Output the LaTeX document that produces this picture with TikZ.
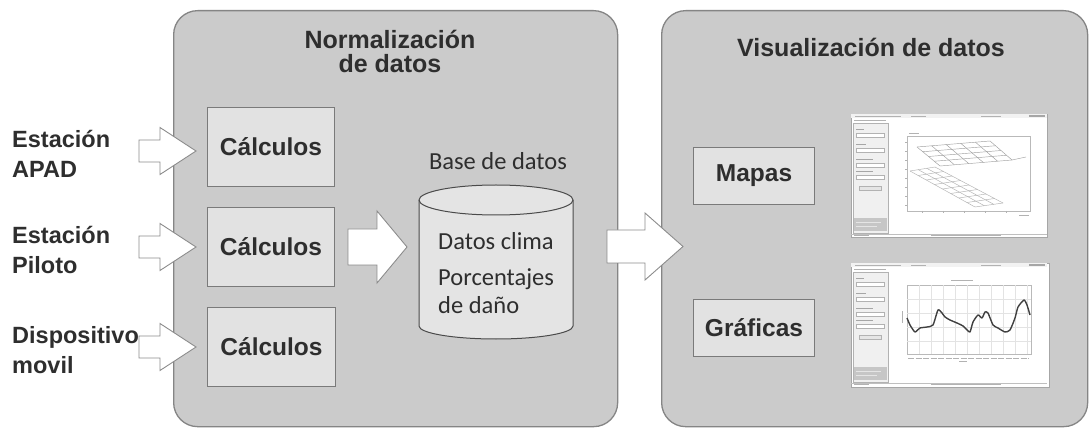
\documentclass[tikz,border=0pt]{standalone}
\usepackage{fontspec}
\setmainfont{Liberation Sans}
\newfontfamily\calfont{Carlito}
\usetikzlibrary{calc}
\definecolor{panelfill}{HTML}{CBCBCB}
\definecolor{panelline}{HTML}{858585}
\definecolor{boxfill}{HTML}{E2E2E2}
\definecolor{boxline}{HTML}{7A7A7A}
\definecolor{txt}{HTML}{2E2E2E}
\definecolor{arrline}{HTML}{8C8C8C}
\definecolor{cylfill}{HTML}{E4E4E4}
\definecolor{cylline}{HTML}{4A4A4A}
\newcommand\blockarr[6]{%
  \draw[barrow] (#1,{#4-#5}) -- (#2,{#4-#5}) -- (#2,{#4-#6}) -- (#3,#4) -- (#2,{#4+#6}) -- (#2,{#4+#5}) -- (#1,{#4+#5}) -- cycle;}
\newcommand\sidebarshot{%
  \draw[draw=gray!60, fill=white!94!black, line width=0.4pt] (2,9) rectangle (37,119);
  \foreach \yy/\ll in {15/8, 30/10, 45/17, 57/17} {
    \draw[gray!70, line width=0.6pt] (5,\yy) -- ++(\ll,0);
    \draw[gray!60, fill=white, line width=0.4pt] (5,{\yy+4}) rectangle (33,{\yy+8});
  }
  \draw[gray!60, fill=white!90!black, line width=0.4pt] (8,72) rectangle (30,76);
  \fill[gray!45] (3,104) rectangle (36,117);
  \draw[gray!20, line width=0.5pt] (5,108) -- (30,108) (5,112) -- (26,112);
  \fill[white!95!black] (0,0) rectangle (196,4);
  \draw[gray!60, line width=0.6pt] (4,2) -- (50,2) (60,2) -- (75,2) (130,2) -- (150,2);
  \fill[gray!70] (178,1) rectangle (194,3.5);
  \draw[gray!60, line width=0.5pt] (3,6) -- (35,6);
  \draw[gray!50, line width=0.4pt] (0,120) -- (196,120);
  \draw[gray!60, line width=0.5pt] (3,121.5) -- (18,121.5) (80,121.5) -- (150,121.5);
}
\begin{document}
\begin{tikzpicture}[x=1pt,y=-1pt,
  panel/.style={draw=panelline, line width=1.3pt, fill=panelfill, rounded corners=24pt, anchor=north west, inner sep=0pt},
  calcbox/.style={draw=boxline, line width=1pt, fill=boxfill, minimum width=127pt, minimum height=79pt, anchor=north west, font=\fontsize{24.5}{30}\selectfont\bfseries, text=txt},
  visbox/.style={draw=boxline, line width=1pt, fill=boxfill, minimum width=121pt, minimum height=57pt, anchor=north west, font=\fontsize{24.5}{30}\selectfont\bfseries, text=txt},
  title/.style={font=\fontsize{25}{25}\selectfont\bfseries, text=txt, align=center, inner sep=0pt},
  srclabel/.style={font=\fontsize{23.5}{30}\selectfont\bfseries, text=txt, align=left, anchor=west, inner sep=0pt},
  dbtext/.style={font=\calfont\fontsize{24.5}{28}\selectfont, text=txt, inner sep=0pt},
  barrow/.style={draw=arrline, fill=white, line width=0.9pt, line join=miter},
  shot/.style={draw=gray!70, fill=white, line width=0.8pt},
  meshline/.style={draw=gray!75, line width=0.45pt}
]
\useasboundingbox (0,0) rectangle (1089,430);
\fill[white] (0,0) rectangle (1089,430);

% panels
\node[panel, minimum width=444pt, minimum height=416pt] (norm) at (173,10) {};
\node[panel, minimum width=426pt, minimum height=416pt] (vis) at (661,10) {};

% titles
\node[title] (normtitle) at (390,51) {Normalización\\[-1pt]de datos};
\node[title] (vistitle) at (871,47) {Visualización de datos};

% source labels
\node[srclabel] (src1) at (12,154) {Estación\\APAD};
\node[srclabel] (src2) at (12,250) {Estación\\Piloto};
\node[srclabel] (src3) at (12,350) {Dispositivo\\movil};

% calc boxes
\node[calcbox] (calc1) at (207,107) {Cálculos};
\node[calcbox] (calc2) at (207,207) {Cálculos};
\node[calcbox, minimum width=128pt] (calc3) at (207,307) {Cálculos};

% database cylinder
\coordinate (dbtop) at (496,200);
\coordinate (dbbot) at (496,326);
\draw[draw=cylline, fill=cylfill, line width=1pt]
  ($(dbtop)+(-77,0)$) -- ($(dbbot)+(-77,0)$)
  arc[start angle=180, end angle=360, x radius=77, y radius=-13]
  -- ($(dbtop)+(77,0)$)
  arc[start angle=0, end angle=180, x radius=77, y radius=-15] -- cycle;
\draw[draw=cylline, line width=1pt] ($(dbtop)+(-77,0)$) arc[start angle=180, end angle=360, x radius=77, y radius=-15];
\node[dbtext] (dbtitle) at (498,161) {Base de datos};
\node[dbtext, anchor=base west] (dbl1) at (438,250) {Datos clima};
\node[dbtext, anchor=base west] (dbl2) at (438,285) {Porcentajes};
\node[dbtext, anchor=base west] (dbl3) at (438,313) {de daño};

% vis boxes
\node[visbox] (mapas) at (693,147) {Mapas};
\node[visbox] (graf) at (693,299) {Gráficas};

% screenshot 1 (maps)
\begin{scope}[shift={(851,114)}]
  \draw[shot] (0,0) rectangle (196,123);
  \sidebarshot
  \draw[gray!55, line width=0.4pt] (56,22) rectangle (179,97);
  \foreach \yy in {28,37,46,55,64,73,82,91} \draw[gray!60, line width=0.4pt] (54,\yy) -- (56,\yy);
  \foreach \xx in {71,92,113,134,155} \draw[gray!60, line width=0.4pt] (\xx,97) -- (\xx,99);
  \draw[gray!60, line width=0.4pt] (58,19) -- (68,19) (168,101) -- (178,101);
  \coordinate (a00) at (66,33); \coordinate (a10) at (139,27);
  \coordinate (a01) at (89,52); \coordinate (a11) at (161,46);
  \foreach \t in {0,0.2,0.4,0.6,0.8,1}
    \draw[meshline] ($(a00)!\t!(a10)$) -- ($(a01)!\t!(a11)$);
  \foreach \t in {0,0.25,0.5,0.75,1}
    \draw[meshline] ($(a00)!\t!(a01)$) -- ($(a10)!\t!(a11)$);
  \draw[meshline] (161,46) -- (175,43);
  \coordinate (b00) at (59,57); \coordinate (b10) at (84,53);
  \coordinate (b01) at (124,93); \coordinate (b11) at (152,89);
  \foreach \t in {0,0.33,0.67,1}
    \draw[meshline, draw=gray!60] ($(b00)!\t!(b10)$) -- ($(b01)!\t!(b11)$);
  \foreach \t in {0,0.125,0.25,0.375,0.5,0.625,0.75,0.875,1}
    \draw[meshline, draw=gray!60] ($(b00)!\t!(b01)$) -- ($(b10)!\t!(b11)$);
\end{scope}

% screenshot 2 (graphs)
\begin{scope}[shift={(851,263)}]
  \draw[shot] (0,0) rectangle (198,124);
  \sidebarshot
  \draw[gray!55, line width=0.4pt] (56,22) rectangle (180,91);
  \foreach \xx in {68,80,92,104,116,128,140,152,164,176}
    \draw[gray!22, line width=0.3pt] (\xx,22) -- (\xx,91);
  \foreach \yy in {36,50,64,78}
    \draw[gray!22, line width=0.3pt] (56,\yy) -- (180,\yy);
  \draw[gray!60, line width=0.4pt] (100,17) -- (122,17);
  \draw[gray!60, line width=0.8pt, dash pattern=on 6pt off 1.5pt] (57,95) -- (178,95);
  \draw[gray!60, line width=0.4pt] (108,98) -- (116,98);
  \draw[gray!60, line width=0.4pt] (51,48) -- (51,60);
  \draw[black!75, line width=1.4pt, line join=round]
    plot[smooth, tension=0.35] coordinates {(56,55) (59,62) (64,69) (69,65) (76,64) (82,62) (87,47) (91,50) (94,54) (99,57) (106,60) (112,63) (116,67) (119,69) (122,59) (127,52) (131,55) (134,49) (137,50) (142,62) (147,65) (154,69) (159,67) (164,55) (167,44) (173,37) (176,42) (179,52)};
\end{scope}

% block arrows
\blockarr{139}{160}{196}{151}{11}{23.5}
\blockarr{139}{160}{196}{247}{11}{23.5}
\blockarr{139}{160}{196}{347}{11}{23.5}
\blockarr{348}{377}{407}{247}{18}{36}
\blockarr{607}{645}{683}{246.5}{16.5}{33.5}
\end{tikzpicture}
\end{document}
